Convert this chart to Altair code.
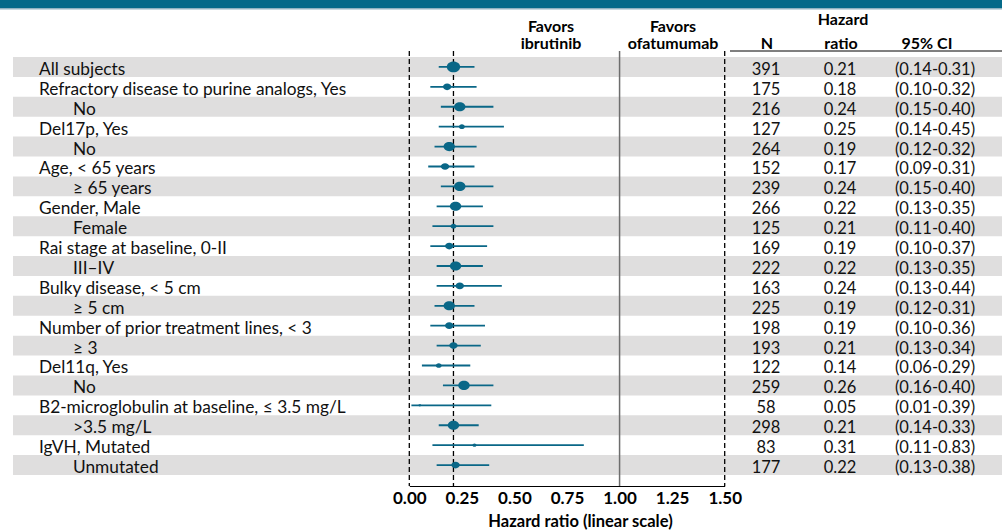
import altair as alt
import pandas as pd

# ---------------- data ----------------
labels = [
    "All subjects",
    "Refractory disease to purine analogs, Yes",
    "No",
    "Del17p, Yes",
    "No",
    "Age, < 65 years",
    "≥ 65 years",
    "Gender, Male",
    "Female",
    "Rai stage at baseline, 0-II",
    "III–IV",
    "Bulky disease, < 5 cm",
    "≥ 5 cm",
    "Number of prior treatment lines, < 3",
    "≥ 3",
    "Del11q, Yes",
    "No",
    "B2-microglobulin at baseline, ≤ 3.5 mg/L",
    ">3.5 mg/L",
    "IgVH, Mutated",
    "Unmutated",
]
levels = [0, 0, 1, 0, 1, 0, 1, 0, 1, 0, 1, 0, 1, 0, 1, 0, 1, 0, 1, 0, 1]
n_values = [391, 175, 216, 127, 264, 152, 239, 266, 125, 169, 222, 163, 225, 198, 193, 122, 259, 58, 298, 83, 177]
hr_values = [0.21, 0.18, 0.24, 0.25, 0.19, 0.17, 0.24, 0.22, 0.21, 0.19, 0.22, 0.24, 0.19, 0.19, 0.21, 0.14, 0.26, 0.05, 0.21, 0.31, 0.22]
ci_low = [0.14, 0.10, 0.15, 0.14, 0.12, 0.09, 0.15, 0.13, 0.11, 0.10, 0.13, 0.13, 0.12, 0.10, 0.13, 0.06, 0.16, 0.01, 0.14, 0.11, 0.13]
ci_high = [0.31, 0.32, 0.40, 0.45, 0.32, 0.31, 0.40, 0.35, 0.40, 0.37, 0.35, 0.44, 0.31, 0.36, 0.34, 0.29, 0.40, 0.39, 0.33, 0.83, 0.38]
x_ticks = [0.0, 0.25, 0.5, 0.75, 1.0, 1.25, 1.5]
dashed_refs = [0.0, hr_values[0], 1.5]
solid_refs = [1.0]

df = pd.DataFrame({
    "i": list(range(len(labels))),
    "label": labels,
    "level": levels,
    "n": n_values,
    "hr": hr_values,
    "lo": ci_low,
    "hi": ci_high,
})
df["hr_txt"] = ["%.2f" % v for v in hr_values]
df["ci_txt"] = ["(%.2f-%.2f)" % (a, b) for a, b in zip(ci_low, ci_high)]
df["n_txt"] = [str(v) for v in n_values]

TEAL = "#0a6787"
GRAY = "#dfdede"
FONT = "Lato"

xs = alt.Scale(domain=[0, 1.5], range=[409.3, 724.7], nice=False, zero=False)
ys = alt.Scale(domain=[0, 21], range=[57, 475], nice=False, zero=False)

x_axis = alt.Axis(
    values=x_ticks, format=".2f", ticks=False, grid=False,
    domainColor="black", domainWidth=1,
    labelFont=FONT, labelFontWeight="bold", labelFontSize=17, labelColor="black",
    labelPadding=4, labelFlush=False, labelOverlap=False,
    title="Hazard ratio (linear scale)", titleFont=FONT, titleFontWeight="bold",
    titleFontSize=16.5, titleColor="black", titlePadding=7, titleX=580,
)


def X(field):
    return alt.X(field, type="quantitative", scale=xs, axis=x_axis)


def Y(field):
    return alt.Y(field, type="quantitative", scale=ys, axis=None)


base = alt.Chart(df)
one = alt.Chart(pd.DataFrame({"k": [0]}))

top_band = one.mark_rect(color="#046a89").encode(
    x=alt.value(0), x2=alt.value(1002), y=alt.value(0), y2=alt.value(8))
top_strip = one.mark_rect(color="#8fb3c1").encode(
    x=alt.value(0), x2=alt.value(1002), y=alt.value(8), y2=alt.value(9.5))

bands = base.transform_filter("datum.i % 2 == 0").transform_calculate(
    ytop="datum.i", ybot="datum.i + 1").mark_rect(color=GRAY).encode(
    x=alt.value(13), x2=alt.value(1002), y=Y("ytop"), y2="ybot:Q")

dashed = alt.Chart(pd.DataFrame({"x": dashed_refs})).mark_rule(
    color="black", strokeWidth=1.3, strokeDash=[5, 3]).encode(
    x=X("x"), y=alt.value(51), y2=alt.value(486))

solid = alt.Chart(pd.DataFrame({"x": solid_refs})).mark_rule(
    color="#6d6d6d", strokeWidth=1.5).encode(
    x=X("x"), y=alt.value(51), y2=alt.value(486))

rows = base.transform_calculate(yc="datum.i + 0.5", yb="datum.i + 1")

ci = rows.mark_rule(color=TEAL, strokeWidth=1.8).encode(
    x=X("lo"), x2="hi:Q", y=Y("yc"))

ELLIPSE = "M-1,0A1,0.8,0,1,1,1,0A1,0.8,0,1,1,-1,0Z"
pts = rows.mark_point(filled=True, shape=ELLIPSE, opacity=1, color=TEAL).encode(
    x=X("hr"), y=Y("yc"),
    size=alt.Size("n:Q", legend=None,
                  scale=alt.Scale(type="threshold", domain=[70, 100, 140, 210, 350],
                                  range=[9, 16, 34, 70, 130, 178])))

txt_kw = dict(font=FONT, fontSize=17.3, color="#111111", baseline="alphabetic", dy=-2)
col_kw = dict(font=FONT, fontSize=16.5, color="#111111", baseline="alphabetic", dy=-2)

lab0 = rows.transform_filter("datum.level == 0").mark_text(align="left", **txt_kw).encode(
    x=alt.value(39), y=Y("yb"), text="label:N")
lab1 = rows.transform_filter("datum.level == 1").mark_text(align="left", **txt_kw).encode(
    x=alt.value(73), y=Y("yb"), text="label:N")

col_n = rows.mark_text(align="center", **col_kw).encode(
    x=alt.value(766), y=Y("yb"), text="n_txt:N")
col_hr = rows.mark_text(align="center", **col_kw).encode(
    x=alt.value(840), y=Y("yb"), text="hr_txt:N")
col_ci = rows.mark_text(align="center", **col_kw).encode(
    x=alt.value(935), y=Y("yb"), text="ci_txt:N")


def header(text, x, y):
    return one.mark_text(font=FONT, fontSize=16, fontWeight="bold", color="black",
                         align="center", baseline="middle", text=text).encode(
        x=alt.value(x), y=alt.value(y))


headers = [
    header("Favors", 551, 27), header("ibrutinib", 551, 44),
    header("Favors", 673, 27), header("ofatumumab", 673, 44),
    header("N", 767, 44),
    header("Hazard", 843, 20), header("ratio", 841, 44),
    header("95% CI", 927, 44),
]

underline = one.mark_rule(color="black", strokeWidth=1).encode(
    x=alt.value(730), x2=alt.value(1002), y=alt.value(51))

chart = alt.layer(
    top_band, top_strip, bands, dashed, solid, ci, pts,
    lab0, lab1, col_n, col_hr, col_ci, *headers, underline,
).properties(
    width=1002, height=486,
    padding={"left": 0, "top": 0, "right": 0, "bottom": 46},
    autosize=alt.AutoSizeParams(type="none"),
    background="white",
).configure_view(stroke=None)

chart.save("out.html", embed_options={"renderer": "svg", "actions": False})
